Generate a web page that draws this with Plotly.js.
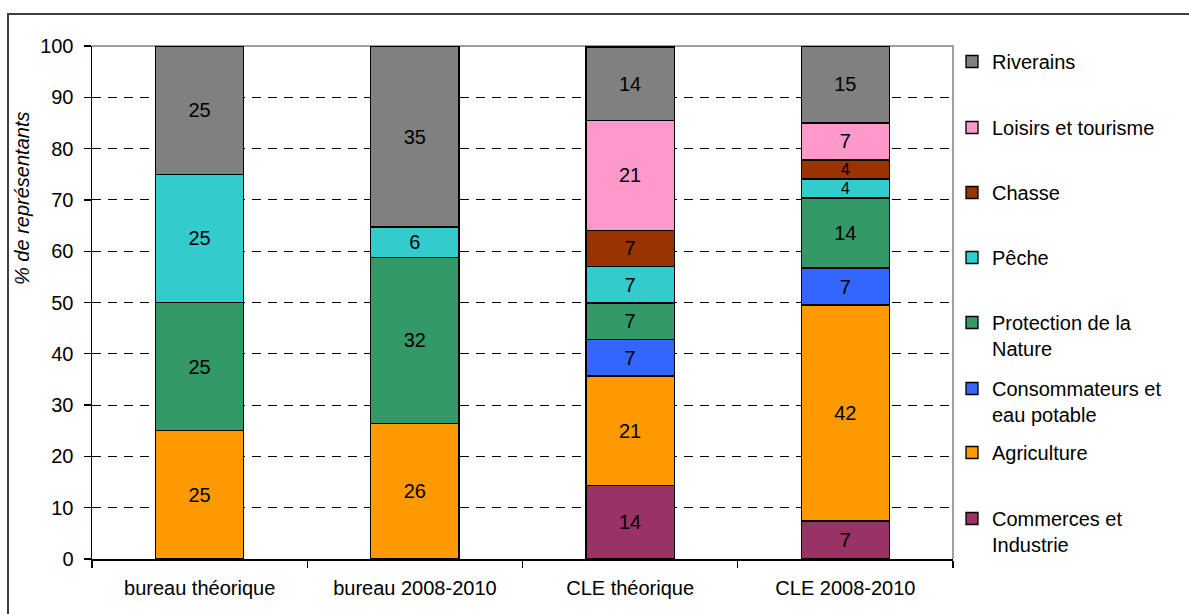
<!DOCTYPE html>
<html>
<head>
<meta charset="utf-8">
<script src="https://cdn.plot.ly/plotly-3.0.1.min.js"></script>
<style>html,body{margin:0;padding:0;background:#fff;}#chart{width:1189px;height:614px;}</style>
</head>
<body>
<div id="chart"></div>
<script>
const categories = ["bureau théorique", "bureau 2008-2010", "CLE théorique", "CLE 2008-2010"];

// Percent of representatives per group (null = group absent)
const commerces     = [null, null, 14.3, 7.4];
const agriculture   = [25, 26.47, 21.4, 42.1];
const consommateurs = [null, null, 7.1, 7.2];
const protection    = [25, 32.35, 7.1, 13.7];
const peche         = [25, 5.88, 7.1, 3.7];
const chasse        = [null, null, 7.1, 3.7];
const loisirs       = [null, null, 21.4, 7.2];
const riverains     = [25, 35.3, 14.3, 15.0];

const seriesNames = ["Commerces et<br>Industrie", "Agriculture", "Consommateurs et<br>eau potable",
  "Protection de la<br>Nature", "Pêche", "Chasse", "Loisirs et tourisme", "Riverains"];
const seriesValues = [commerces, agriculture, consommateurs, protection, peche, chasse, loisirs, riverains];
const seriesColors = ["#993366", "#FF9900", "#3366FF", "#339966", "#33CCCC", "#993300", "#FF99CC", "#808080"];

const FONT = "'Liberation Sans', Arial, sans-serif";
const FS = 20;

// pixel helpers for layout placement
const L = 92, R = 953, T = 46, B = 559;
const px2x = p => (p - L) / (R - L);
const py2y = p => (B - p) / (B - T);

// legend square centre y positions in pixels (bottom to top: Commerces ... Riverains)
const legendPix = [518, 452, 388, 322, 257, 192, 127, 61];

const traces = seriesValues.map((vals, i) => ({
  type: "bar",
  name: seriesNames[i],
  x: categories,
  y: vals,
  marker: {color: seriesColors[i], line: {color: "#000", width: 1.3}},
  texttemplate: "%{y:.0f}",
  textposition: "inside",
  insidetextanchor: "middle",
  constraintext: "none",
  textangle: 0,
  // slightly smaller label where a segment is very thin, so neighbours don't collide
  insidetextfont: {family: FONT, color: "#000",
    size: vals.map(v => (v !== null && v < 5 ? 16 : FS))},
  hoverinfo: "x+y+name",
  legend: i === 0 ? "legend" : "legend" + (i + 1)
}));

const layout = {
  width: 1189, height: 614,
  margin: {l: L, r: 1189 - R, t: T, b: 614 - B},
  paper_bgcolor: "#fff", plot_bgcolor: "#fff",
  barmode: "stack",
  bargap: 0.59,
  font: {family: FONT, size: FS, color: "#000"},
  xaxis: {
    type: "category",
    showline: true, linecolor: "#000", linewidth: 1.5,
    ticks: "outside", tickson: "boundaries", ticklen: 7, tickcolor: "#000", tickwidth: 1.3,
    showgrid: false,
    tickfont: {family: FONT, size: FS, color: "#000"},
    ticklabelstandoff: 10,
    fixedrange: true
  },
  yaxis: {
    range: [0, 100], dtick: 10, tick0: 0,
    showline: true, linecolor: "#000", linewidth: 1.5,
    ticks: "outside", ticklen: 7, tickcolor: "#000", tickwidth: 1.3,
    showgrid: true, gridcolor: "#000", gridwidth: 1, griddash: "9px,7px",
    zeroline: false,
    tickfont: {family: FONT, size: FS, color: "#000"},
    ticklabelstandoff: 6,
    fixedrange: true
  },
  showlegend: true,
  shapes: [
    {type: "path", xref: "paper", yref: "paper",
     path: "M" + px2x(8) + "," + py2y(640) + " L" + px2x(8) + "," + py2y(14) + " L" + px2x(1200) + "," + py2y(14),
     line: {color: "#404040", width: 2}},
    {type: "path", xref: "paper", yref: "paper", layer: "below",
     path: "M0,1 L1,1 L1,0", line: {color: "#808080", width: 1.5}}
  ],
  annotations: [
    {xref: "paper", yref: "paper", x: px2x(22), y: py2y(199), text: "<i>% de représentants</i>",
     textangle: -90, showarrow: false, font: {family: FONT, size: FS, color: "#000"},
     xanchor: "center", yanchor: "middle"}
  ]
};

legendPix.forEach((p, i) => {
  const key = i === 0 ? "legend" : "legend" + (i + 1);
  layout[key] = {
    x: px2x(952), xanchor: "left",
    y: py2y(p - 19), yanchor: "top",
    valign: "top",
    bgcolor: "rgba(0,0,0,0)", borderwidth: 0,
    font: {family: FONT, size: FS, color: "#000"},
    itemclick: false, itemdoubleclick: false
  };
});

Plotly.newPlot("chart", traces, layout, {displayModeBar: false, staticPlot: true});
</script>
</body>
</html>
